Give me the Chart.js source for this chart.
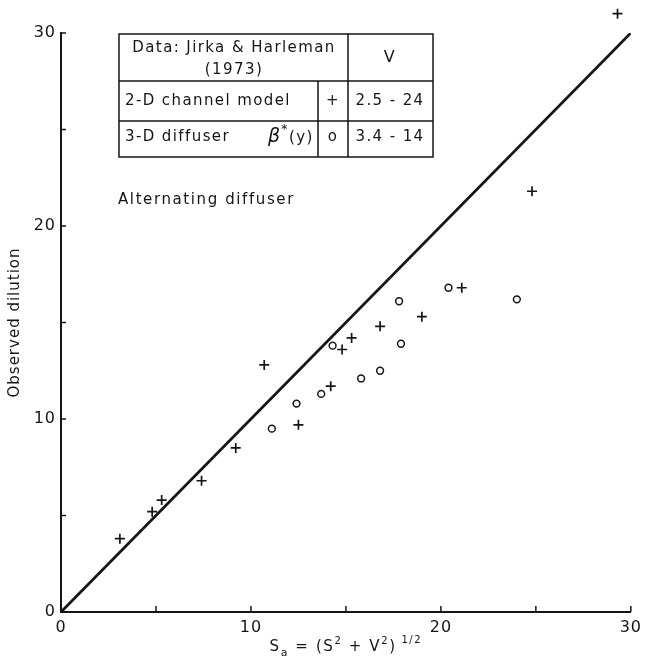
<!DOCTYPE html>
<html>
<head>
<meta charset="utf-8">
<script src="https://cdn.jsdelivr.net/npm/chart.js@4.4.1/dist/chart.umd.min.js"></script>
<style>
  html, body { margin: 0; background: #fff; }
  canvas { display: block; }
</style>
</head>
<body>
<canvas id="grafico" width="648" height="662"></canvas>
<script>
// 2-D channel model (+)
const channelX = [3.1, 4.8, 5.3, 7.4, 9.2, 10.7, 12.5, 14.2, 14.8, 15.3, 16.8, 19.0, 21.1, 24.8, 29.3];
const channelY = [3.8, 5.2, 5.8, 6.8, 8.5, 12.8, 9.7, 11.7, 13.6, 14.2, 14.8, 15.3, 16.8, 21.8, 31.0];
// 3-D diffuser beta*(y) (o)
const diffuserX = [11.1, 12.4, 13.7, 14.3, 15.8, 16.8, 17.8, 17.9, 20.4, 24.0];
const diffuserY = [9.5, 10.8, 11.3, 13.8, 12.1, 12.5, 16.1, 13.9, 16.8, 16.2];
// 1:1 line
const lineX = [0, 30];
const lineY = [0, 30];
const axisTicks = [0, 5, 10, 15, 20, 25, 30];
const tickLabels = ['0', '10', '20', '30'];

const INK = '#151515';
const FONT = '"DejaVu Sans", sans-serif';

function pares(xs, ys) {
    return xs.map((x, i) => ({ x: x, y: ys[i] }));
}

function rotulo(value) {
    const s = String(value);
    return tickLabels.includes(s) ? s : '';
}

const espacamento = {
    id: 'espacamento',
    beforeLayout(chart) { chart.ctx.letterSpacing = '1px'; },
    beforeDraw(chart) { chart.ctx.letterSpacing = '1px'; }
};

// let the one point above y = 30 be drawn (chart.js skips points outside the area)
let topoOriginal = null;
const foraDaArea = {
    id: 'foraDaArea',
    beforeDatasetsDraw(chart) {
        topoOriginal = chart.chartArea.top;
        chart.chartArea.top = 0;
    },
    afterDatasetsDraw(chart) {
        if (topoOriginal !== null) chart.chartArea.top = topoOriginal;
    }
};

// inward tick marks on both axes
const marcas = {
    id: 'marcas',
    afterDraw(chart) {
        const { ctx, chartArea: a, scales: { x, y } } = chart;
        ctx.save();
        ctx.strokeStyle = INK;
        ctx.lineWidth = 1.5;
        axisTicks.forEach(v => {
            const px = x.getPixelForValue(v);
            ctx.beginPath(); ctx.moveTo(px, a.bottom); ctx.lineTo(px, a.bottom - 6); ctx.stroke();
            const py = y.getPixelForValue(v);
            ctx.beginPath(); ctx.moveTo(a.left, py); ctx.lineTo(a.left + 5, py); ctx.stroke();
        });
        ctx.restore();
    }
};

// data table box and annotation
const tabela = {
    id: 'tabela',
    afterDraw(chart) {
        const ctx = chart.ctx;
        const L = 119, R = 433, T = 34, B = 157, h1 = 81, h2 = 121, v1 = 318, v2 = 348;
        ctx.save();
        ctx.strokeStyle = INK;
        ctx.fillStyle = INK;
        ctx.lineWidth = 1.5;
        ctx.strokeRect(L, T, R - L, B - T);
        ctx.beginPath();
        ctx.moveTo(L, h1); ctx.lineTo(R, h1);
        ctx.moveTo(L, h2); ctx.lineTo(R, h2);
        ctx.moveTo(v2, T); ctx.lineTo(v2, B);
        ctx.moveTo(v1, h1); ctx.lineTo(v1, B);
        ctx.stroke();

        ctx.letterSpacing = '1.4px';
        ctx.textBaseline = 'middle';
        ctx.font = '15px ' + FONT;
        ctx.textAlign = 'center';
        ctx.fillText('Data: Jirka & Harleman', 234, 48);
        ctx.fillText('(1973)', 234, 70);
        ctx.font = '16px ' + FONT;
        ctx.fillText('V', 390, 58);
        ctx.font = '15px ' + FONT;
        ctx.fillText('+', 333, 101);
        ctx.fillText('o', 333, 137);
        ctx.fillText('2.5 - 24', 390, 101);
        ctx.fillText('3.4 - 14', 390, 137);
        ctx.textAlign = 'left';
        ctx.fillText('2-D channel model', 125, 101);
        ctx.fillText('3-D diffuser', 125, 137);
        ctx.font = 'italic 19px ' + FONT;
        ctx.fillText('\u03B2', 268, 137);
        ctx.font = '13px ' + FONT;
        ctx.fillText('*', 281, 130);
        ctx.font = '15px ' + FONT;
        ctx.fillText('(y)', 289, 138);

        ctx.letterSpacing = '1.6px';
        ctx.fillText('Alternating diffuser', 118, 200);

        // x axis title with sub/superscripts
        const base = 651;
        const partes = [
            ['S', 15, 0], ['a', 11, 5], [' = (S', 15, 0], ['2', 10, -7],
            [' + V', 15, 0], ['2', 10, -7], [')', 15, 0], [' 1/2', 10, -8]
        ];
        let largura = 0;
        partes.forEach(p => { ctx.font = p[1] + 'px ' + FONT; largura += ctx.measureText(p[0]).width; });
        let cx = chart.chartArea.left + (chart.chartArea.right - chart.chartArea.left) / 2 - largura / 2;
        ctx.textBaseline = 'alphabetic';
        partes.forEach(p => {
            ctx.font = p[1] + 'px ' + FONT;
            ctx.fillText(p[0], cx, base + p[2]);
            cx += ctx.measureText(p[0]).width;
        });
        ctx.restore();
    }
};

function desenharGrafico() {
    const ctx = document.getElementById('grafico').getContext('2d');
    new Chart(ctx, {
        type: 'scatter',
        data: {
            datasets: [
                {
                    type: 'line',
                    label: '1:1',
                    data: pares(lineX, lineY),
                    borderColor: INK,
                    borderWidth: 2.8,
                    pointRadius: 0,
                    fill: false
                },
                {
                    label: '2-D channel model',
                    data: pares(channelX, channelY),
                    pointStyle: 'cross',
                    pointRadius: 5,
                    borderColor: INK,
                    borderWidth: 1.7,
                    clip: false
                },
                {
                    label: '3-D diffuser',
                    data: pares(diffuserX, diffuserY),
                    pointStyle: 'circle',
                    pointRadius: 3.4,
                    borderColor: INK,
                    backgroundColor: 'rgba(0,0,0,0)',
                    borderWidth: 1.5,
                    clip: false
                }
            ]
        },
        options: {
            responsive: false,
            animation: false,
            layout: { padding: { top: 33, right: 13, left: 0, bottom: 0 } },
            plugins: { legend: { display: false }, tooltip: { enabled: false } },
            scales: {
                x: {
                    type: 'linear',
                    min: 0, max: 30,
                    afterFit: s => { s.height = 50; },
                    grid: { display: false, drawTicks: false },
                    border: { display: true, color: INK, width: 2 },
                    ticks: {
                        stepSize: 5, padding: 6, color: INK, maxRotation: 0,
                        font: { family: FONT, size: 16 },
                        callback: rotulo
                    },
                    title: { display: false }
                },
                y: {
                    type: 'linear',
                    min: 0, max: 30,
                    afterFit: s => { s.width = 61; },
                    grid: { display: false, drawTicks: false },
                    border: { display: true, color: INK, width: 2 },
                    ticks: {
                        stepSize: 5, padding: 5, color: INK,
                        font: { family: FONT, size: 16 },
                        callback: rotulo
                    },
                    title: {
                        display: true,
                        text: 'Observed dilution',
                        color: INK,
                        font: { family: FONT, size: 15 },
                        padding: { top: 6, bottom: 0 }
                    }
                }
            }
        },
        plugins: [espacamento, foraDaArea, marcas, tabela]
    });
}

document.addEventListener('DOMContentLoaded', desenharGrafico);
</script>
</body>
</html>
